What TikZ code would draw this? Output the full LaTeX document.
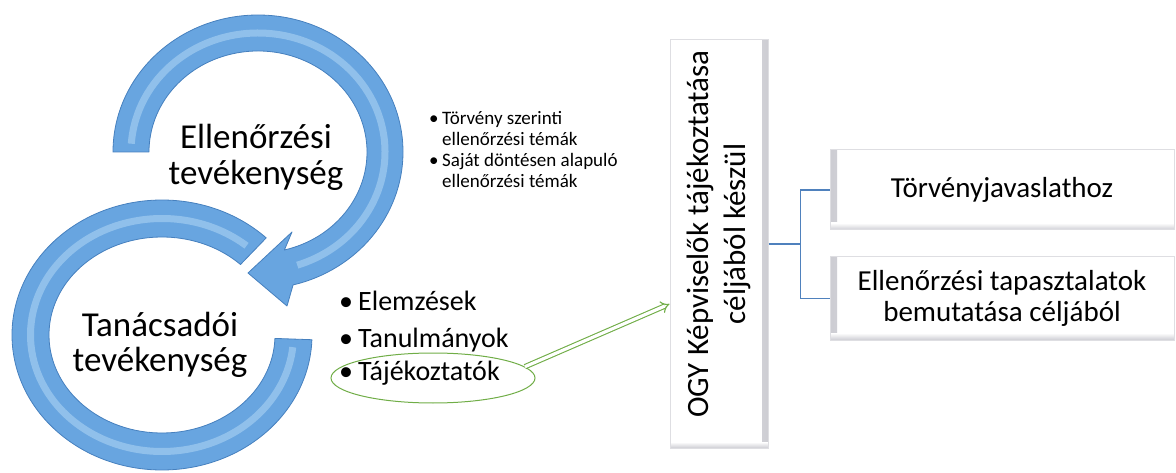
\documentclass[tikz,border=0pt]{standalone}
\usepackage{fontspec}
\setmainfont{Carlito}
\usetikzlibrary{calc,shapes.geometric,arrows.meta}
\definecolor{ringblue}{RGB}{104,165,224}
\definecolor{ringdark}{RGB}{70,128,190}
\definecolor{ringlight}{RGB}{185,220,246}
\definecolor{linkblue}{RGB}{79,129,189}
\definecolor{ellgreen}{RGB}{112,173,71}
\definecolor{boxedge}{RGB}{222,222,226}
\definecolor{boxshade}{RGB}{205,205,211}
\tikzset{
  ringbody/.style={fill=ringblue, draw=ringdark, line width=0.8pt, line join=round},
  ringgloss/.style={draw=ringlight, line width=7pt, opacity=0.5},
  bigtxt/.style={font=\fontsize{35}{37}\selectfont, inner sep=0pt, anchor=base},
  midtxt/.style={font=\fontsize{28}{34}\selectfont, inner sep=0pt, anchor=base west},
  smalltxt/.style={font=\fontsize{19}{21}\selectfont, inner sep=0pt, anchor=base west},
  boxtxt/.style={font=\fontsize{29}{31}\selectfont, align=center},
  panel/.style={draw=boxedge, line width=1pt, fill=white, path picture={
      \shade[left color=boxshade, right color=white] (path picture bounding box.south west) rectangle ([xshift=7pt]path picture bounding box.north west);
      \shade[bottom color=boxshade, top color=white] (path picture bounding box.south west) rectangle ([yshift=7pt]path picture bounding box.south east);
    }},
  vpanel/.style={draw=boxedge, line width=1pt, fill=white, path picture={
      \shade[right color=boxshade, left color=white] (path picture bounding box.south east) rectangle ([xshift=-6pt]path picture bounding box.north east);
      \shade[bottom color=boxshade, top color=white] (path picture bounding box.south west) rectangle ([yshift=6pt]path picture bounding box.south east);
    }},
  link/.style={draw=linkblue, line width=1.3pt},
  greenarrow/.style={draw=ellgreen, double=white, double distance=3.2pt, line width=1.1pt, -{Implies}},
}
\begin{document}
\begin{tikzpicture}[x=1pt,y=-1pt]
\useasboundingbox (0,0) rectangle (1176,473);

% lower ring
\path[ringbody] ($(162,335)+(-46:150 and 135)$)
  arc[start angle=-46, end angle=-358, x radius=150, y radius=135]
  -- ($(162,335)+(-358:113 and 98)$)
  arc[start angle=-358, end angle=-46, x radius=113, y radius=98] -- cycle;
\draw[ringgloss] ($(162,335)+(-50:131.5 and 116.5)$)
  arc[start angle=-50, end angle=-354, x radius=131.5, y radius=116.5];

% upper ring with arrowhead
\path[ringbody] ($(258,152)+(180:145 and 137)$)
  arc[start angle=180, end angle=436, x radius=145, y radius=137]
  -- (287,306) -- (248,273) -- (292,232)
  -- ($(258,152)+(436:109 and 101)$)
  arc[start angle=436, end angle=180, x radius=109, y radius=101] -- cycle;
\draw[ringgloss] ($(258,152)+(184:127 and 119)$)
  arc[start angle=184, end angle=432, x radius=127, y radius=119];

% ring texts
\node[bigtxt] (e1) at (256,149) {Ellenőrzési};
\node[bigtxt] (e2) at (256,185) {tevékenység};
\node[bigtxt] (t1) at (160,336) {Tanácsadói};
\node[bigtxt] (t2) at (160,371) {tevékenység};

% small bullet list
\node[smalltxt] (sb1) at (429,125) {•};
\node[smalltxt] (s1) at (442,125) {Törvény szerinti};
\node[smalltxt] (s2) at (442,146) {ellenőrzési témák};
\node[smalltxt] (sb2) at (429,167) {•};
\node[smalltxt] (s3) at (442,167) {Saját döntésen alapuló};
\node[smalltxt] (s4) at (442,188) {ellenőrzési témák};

% medium bullet list
\node[midtxt] (mb1) at (339,311) {•};
\node[midtxt] (m1) at (358,311) {Elemzések};
\node[midtxt] (mb2) at (339,347) {•};
\node[midtxt] (m2) at (358,347) {Tanulmányok};
\node[midtxt] (mb3) at (339,380) {•};
\node[midtxt] (m3) at (358,380) {Tájékoztatók};
\node[ellipse, draw=ellgreen, line width=1pt, minimum width=204pt, minimum height=50pt, inner sep=0pt] (ell) at (433,378) {};

% vertical box
\node[vpanel, minimum width=98pt, minimum height=408pt, inner sep=0pt] (ogy) at (719,244) {};
\node[rotate=90, align=center, font=\fontsize{31}{37}\selectfont] (ogyt) at (719,234) {OGY Képviselők tájékoztatása\\céljából készül};

% green arrow
\coordinate (ah) at ([yshift=-60pt]ogy.west);
\draw[greenarrow] (ell.7) -- (ah);

% right boxes
\node[panel, boxtxt, minimum width=344pt, minimum height=80pt] (b1) at (1002,190) {Törvényjavaslathoz};
\node[panel, boxtxt, minimum width=344pt, minimum height=83pt] (b2) at (1002,298.5) {Ellenőrzési tapasztalatok\\bemutatása céljából};

% connectors
\draw[link] (ogy.east) -- ++(32,0) coordinate (j) |- (b1.west);
\draw[link] (j) |- (b2.west);
\end{tikzpicture}
\end{document}
